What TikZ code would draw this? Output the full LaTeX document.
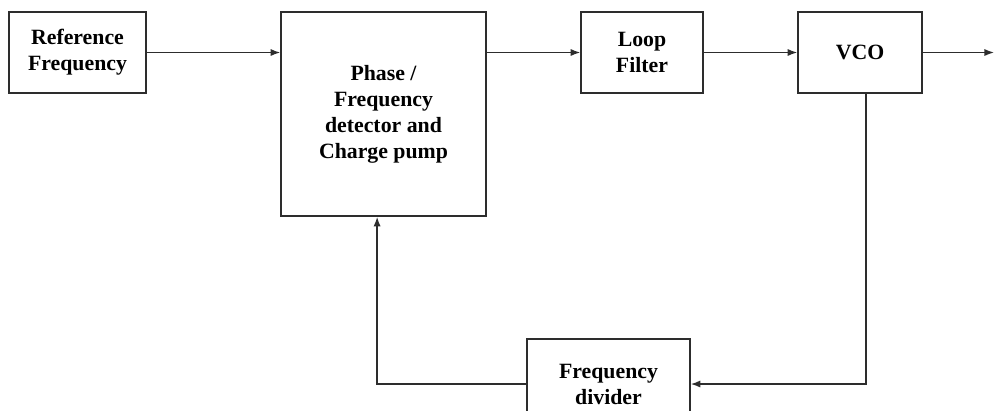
\documentclass[tikz,border=0pt]{standalone}
\usepackage{fontspec}
\setmainfont{Liberation Serif}
\usetikzlibrary{positioning,calc}
\usetikzlibrary{arrows.meta}
\definecolor{LineGray}{RGB}{45,45,45}
\tikzset{
  blk/.style={draw=LineGray,line width=1.1pt,fill=white,align=center,inner sep=2pt,
    font=\fontsize{15.5}{18.5}\selectfont\bfseries},
  sig/.style={draw=LineGray,line width=1pt,-{Latex[length=2.4mm,width=1.8mm]}},
}

\begin{document}
\begin{tikzpicture}[x=0.025cm,y=-0.025cm]
\useasboundingbox (0,0) rectangle (994,410);
\node[blk,minimum width=3.425cm,minimum height=2.025cm] (ref) at (77.5,52.5) {Reference\\Frequency};
\node[blk,minimum width=5.125cm,minimum height=5.1cm] (pfd) at (383.5,114) {Phase /\\Frequency\\detector and\\Charge pump};
\node[blk,minimum width=3.05cm,minimum height=2.025cm] (lf) at (642,52.5) {Loop\\Filter};
\node[blk,minimum width=3.1cm,minimum height=2.025cm] (vco) at (860,52.5) {VCO};
\node[blk,minimum width=4.075cm,minimum height=2.25cm] (div) at (608.5,384) {Frequency\\divider};
\coordinate (out) at (994,52.5);
\draw[sig] (ref.east) -- (ref.east -| pfd.west);
\draw[sig] (pfd.east |- lf.west) -- (lf.west);
\draw[sig] (lf.east) -- (vco.west);
\draw[sig] (vco.east) -- (out);
\draw[sig] ([xshift=0.15cm]vco.south) |- (div.east);
\draw[sig] (div.west) -| ([xshift=-0.16cm]pfd.south);
\end{tikzpicture}
\end{document}
